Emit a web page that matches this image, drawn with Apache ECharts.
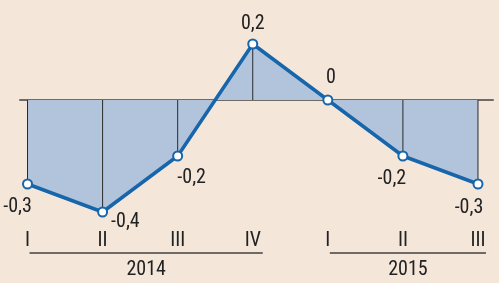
<!DOCTYPE html>
<html><head><meta charset="utf-8">
<style>html,body{margin:0;padding:0;background:#f5e6da;}#c{width:499px;height:283px;}</style>
<script src="https://cdn.jsdelivr.net/npm/echarts@6/dist/echarts.min.js"></script>
</head><body><div id="c"></div>
<script>
var quarters = ['I','II','III','IV','I','II','III'];
var values = [-0.3,-0.4,-0.2,0.2,0,-0.2,-0.3];
var years = ['2014','2015'];
var yearSpans = [[0,3],[4,6]];
var FONT = "'Liberation Sans Narrow','Roboto Condensed','Roboto',sans-serif";
var labelPos = [
  {position:'bottom', offset:[-10,2]},
  {position:'right', offset:[-2,10]},
  {position:'bottom', offset:[14,1]},
  {position:'top', offset:[0,0]},
  {position:'top', offset:[3,-2]},
  {position:'bottom', offset:[-11,2]},
  {position:'bottom', offset:[-9,3]}
];
var pts = values.map(function(v,i){return [i,v];});
var chart = echarts.init(document.getElementById('c'));
var blue = '#1766ab';
chart.setOption({
  backgroundColor:'#f5e6da',
  animation:false,
  grid:{left:20,right:6,top:16,bottom:57},
  xAxis:[
    {type:'value',min:-0.1,max:6.2,splitLine:{show:false},axisLine:{show:false,onZero:false},axisTick:{show:false},
     axisLabel:{customValues:[0,1,2,3,4,5,6],margin:5,color:'#222',fontFamily:FONT,fontSize:20,
       formatter:function(v){return quarters[Math.round(v)];}}},
    {type:'value',min:-0.1,max:6.2,position:'bottom',splitLine:{show:false},
     axisLine:{show:true,onZero:true,lineStyle:{color:'#6e6a66',width:2}},axisTick:{show:false},axisLabel:{show:false}}
  ],
  yAxis:{type:'value',min:-0.45,max:0.3,show:false,splitLine:{show:false}},
  series:[
    {type:'line',data:pts,symbol:'none',lineStyle:{width:0},areaStyle:{color:'#b2c4dc',opacity:1},z:1},
    {type:'bar',data:pts,barWidth:1,itemStyle:{color:'#2a2a2a'},z:2},
    {type:'line',data:pts.map(function(p,i){return {value:p,label:labelPos[i]};}),
     symbol:'circle',symbolSize:9,
     itemStyle:{color:'#ffffff',borderColor:blue,borderWidth:2},
     lineStyle:{color:blue,width:3.5},z:5,
     label:{show:true,color:'#222',fontFamily:FONT,fontSize:20,
       formatter:function(p){return String(p.value[1]).replace('.',',');}}}
  ]
});
var g=[];
yearSpans.forEach(function(s,k){
  var x0=chart.convertToPixel({xAxisIndex:0},s[0])+2;
  var x1=chart.convertToPixel({xAxisIndex:0},s[1])+(s[1]-s[0]===3?10:8);
  g.push({type:'line',shape:{x1:x0,y1:253,x2:x1,y2:253},style:{stroke:'#6e6a66',lineWidth:2}});
  g.push({type:'text',x:(x0+x1)/2,y:270,style:{text:years[k],fontFamily:FONT,fontSize:20,fill:'#222',align:'center',verticalAlign:'middle'}});
});
chart.setOption({graphic:g});
</script></body></html>
